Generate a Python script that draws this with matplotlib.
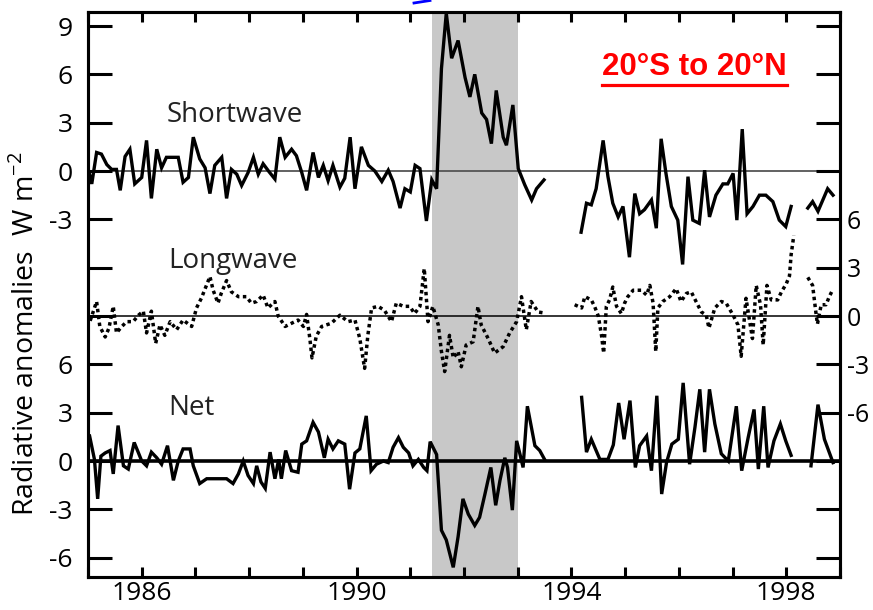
import matplotlib
matplotlib.use("Agg")
import matplotlib.pyplot as plt
from matplotlib.lines import Line2D

# ---------------- data (years, anomalies W m-2) ----------------
sw1_x = [1985.02, 1985.07, 1985.16, 1985.25, 1985.35, 1985.44, 1985.53, 1985.60, 1985.69, 1985.78,
         1985.87, 1986.00, 1986.09, 1986.18, 1986.28, 1986.37, 1986.46, 1986.56, 1986.68, 1986.77,
         1986.87, 1986.96, 1987.08, 1987.18, 1987.27, 1987.36, 1987.49, 1987.58, 1987.67, 1987.77,
         1987.86, 1987.98, 1988.08, 1988.17, 1988.26, 1988.36, 1988.48, 1988.57, 1988.67, 1988.79,
         1988.88, 1988.98, 1989.07, 1989.19, 1989.29, 1989.38, 1989.47, 1989.56, 1989.69, 1989.78,
         1989.88, 1989.97, 1990.09, 1990.22, 1990.34, 1990.47, 1990.59, 1990.68, 1990.81, 1990.90,
         1991.00, 1991.09, 1991.18, 1991.30, 1991.40, 1991.49, 1991.58, 1991.67, 1991.77, 1991.89,
         1992.02, 1992.11, 1992.20, 1992.33, 1992.42, 1992.51, 1992.60, 1992.73, 1992.79, 1992.91,
         1993.01, 1993.13, 1993.26, 1993.35, 1993.49]
sw1_y = [-0.1, -0.8, 1.15, 1.05, 0.4, 0.1, 0.1, -1.2, 0.9, 1.35,
         -0.8, -0.4, 1.9, -1.7, 1.35, 0.2, 0.85, 0.85, 0.85, -0.7,
         -0.4, 2.1, 0.75, 0.2, -1.4, 0.35, 0.85, -1.7, 0.1, -0.2,
         -0.9, -0.1, 0.85, -0.2, 0.45, 0.0, -0.5, 2.1, 0.85, 1.35,
         0.95, -0.1, -1.2, 1.15, -0.4, 0.35, -0.6, 0.35, -1.0, -0.45,
         2.1, -1.1, 1.5, 0.35, 0.0, -0.65, 0.05, -0.65, -2.3, -1.1,
         -1.3, 0.35, 0.15, -3.1, -0.55, -1.1, 6.35, 9.8, 7.0, 8.1,
         5.8, 4.6, 6.0, 3.6, 3.2, 1.7, 5.0, 2.1, 1.6, 4.1,
         0.15, -0.85, -1.8, -1.1, -0.55]

sw2_x = [1994.18, 1994.28, 1994.37, 1994.46, 1994.59, 1994.68, 1994.77, 1994.87, 1994.96, 1995.08,
         1995.18, 1995.27, 1995.36, 1995.49, 1995.58, 1995.67, 1995.76, 1995.86, 1995.98, 1996.07,
         1996.17, 1996.26, 1996.38, 1996.48, 1996.57, 1996.69, 1996.82, 1996.91, 1997.01, 1997.08,
         1997.18, 1997.27, 1997.38, 1997.50, 1997.62, 1997.75, 1997.87, 1997.99, 1998.09]
sw2_y = [-3.8, -2.0, -2.1, -1.1, 1.9, -0.35, -2.0, -2.85, -2.2, -5.35,
         -1.4, -2.65, -2.4, -1.8, -3.55, 2.0, -0.15, -2.2, -3.05, -5.8,
         -0.35, -3.05, -3.25, 0.05, -2.85, -1.5, -0.8, -0.8, -0.15, -3.05,
         2.6, -2.65, -2.2, -1.5, -1.5, -1.9, -3.05, -3.45, -2.2]

sw3_x = [1998.40, 1998.49, 1998.59, 1998.68, 1998.77, 1998.87]
sw3_y = [-2.3, -1.9, -2.5, -1.8, -1.1, -1.5]

lw1_x = [1985.04, 1985.16, 1985.22, 1985.32, 1985.39, 1985.47, 1985.53, 1985.63, 1985.72, 1985.84,
         1985.94, 1986.03, 1986.09, 1986.18, 1986.26, 1986.34, 1986.43, 1986.53, 1986.65, 1986.77,
         1986.93, 1987.02, 1987.11, 1987.27, 1987.33, 1987.42, 1987.48, 1987.58, 1987.67, 1987.80,
         1987.95, 1988.04, 1988.14, 1988.26, 1988.35, 1988.48, 1988.54, 1988.67, 1988.79, 1988.91,
         1989.01, 1989.07, 1989.13, 1989.17, 1989.25, 1989.35, 1989.53, 1989.69, 1989.84, 1989.97,
         1990.06, 1990.15, 1990.21, 1990.28, 1990.40, 1990.52, 1990.65, 1990.74, 1990.87, 1990.99,
         1991.08, 1991.18, 1991.26, 1991.33, 1991.42, 1991.52, 1991.58, 1991.64, 1991.73, 1991.80,
         1991.89, 1991.95, 1992.04, 1992.17, 1992.26, 1992.32, 1992.45, 1992.57, 1992.73, 1992.85,
         1992.98, 1993.07, 1993.16, 1993.25, 1993.38, 1993.47]
lw1_y = [-0.3, 0.9, -0.65, -1.3, -0.75, 0.6, -1.05, -0.65, -0.35, -0.35,
         0.05, 0.3, -1.05, 0.3, -1.7, -0.55, -1.2, -0.35, -0.85, -0.25,
         -0.65, 0.5, 1.1, 2.45, 1.6, 0.8, 1.4, 2.2, 1.5, 1.2,
         1.2, 0.8, 0.9, 1.3, 0.5, 0.9, 0.0, -0.65, -0.45, -0.25,
         -0.65, 0.1, -1.4, -2.6, -1.25, -0.65, -0.45, 0.05, -0.35, -0.25,
         -1.4, -3.25, -1.2, 0.5, 0.6, 0.35, -0.35, 0.8, 0.6, 0.6,
         0.15, 0.6, 2.95, -0.35, 0.6, -0.55, -2.2, -3.45, -1.2, -2.6,
         -2.2, -3.15, -1.8, -1.6, 0.6, -0.55, -1.4, -2.3, -1.9, -1.05,
         -0.35, 1.2, -0.85, 0.9, 0.25, 0.2]

lw2_x = [1994.06, 1994.19, 1994.25, 1994.37, 1994.43, 1994.50, 1994.56, 1994.60, 1994.65, 1994.71,
         1994.77, 1994.84, 1994.93, 1994.99, 1995.05, 1995.15, 1995.30, 1995.40, 1995.46, 1995.52,
         1995.57, 1995.61, 1995.70, 1995.83, 1995.95, 1996.04, 1996.14, 1996.23, 1996.32, 1996.42,
         1996.51, 1996.56, 1996.67, 1996.79, 1996.88, 1997.01, 1997.10, 1997.16, 1997.25, 1997.37,
         1997.44, 1997.52, 1997.57, 1997.64, 1997.72, 1997.84, 1997.91, 1998.00, 1998.06, 1998.09,
         1998.14]
lw2_y = [0.7, 0.5, 1.2, 1.0, 0.6, 0.0, -1.2, -2.3, 0.6, 1.0,
         1.8, 0.6, 0.15, 0.8, 1.2, 1.6, 1.6, 1.3, 1.9, 0.8,
         -2.2, 0.5, 0.9, 1.2, 1.7, 0.9, 1.4, 1.5, 0.9, 0.25,
         0.05, -0.75, 0.5, 0.9, 0.8, 0.05, -0.55, -2.5, 1.1, -1.4,
         1.9, 0.7, -1.8, 1.9, 1.0, 1.0, 1.5, 2.0, 2.5, 3.8,
         5.0]

lw3_x = [1998.40, 1998.49, 1998.55, 1998.58, 1998.65, 1998.74, 1998.80, 1998.86]
lw3_y = [2.4, 1.9, 0.25, -0.5, 0.7, 0.7, 1.2, 1.6]

net1_x = [1985.03, 1985.12, 1985.18, 1985.24, 1985.32, 1985.41, 1985.47, 1985.56, 1985.66, 1985.75,
          1985.86, 1985.94, 1986.00, 1986.09, 1986.18, 1986.28, 1986.37, 1986.48, 1986.59, 1986.68,
          1986.77, 1986.90, 1986.96, 1987.08, 1987.21, 1987.33, 1987.46, 1987.58, 1987.70, 1987.80,
          1987.89, 1987.98, 1988.08, 1988.14, 1988.22, 1988.30, 1988.39, 1988.48, 1988.55, 1988.60,
          1988.68, 1988.79, 1988.91, 1988.98, 1989.07, 1989.19, 1989.29, 1989.40, 1989.47, 1989.56,
          1989.66, 1989.78, 1989.87, 1989.97, 1990.06, 1990.18, 1990.27, 1990.37, 1990.50, 1990.59,
          1990.68, 1990.78, 1990.87, 1990.97, 1991.05, 1991.15, 1991.25, 1991.31, 1991.37, 1991.49,
          1991.58, 1991.67, 1991.80, 1991.89, 1991.98, 1992.08, 1992.20, 1992.29, 1992.39, 1992.50,
          1992.59, 1992.67, 1992.76, 1992.81, 1992.90, 1992.98, 1993.04, 1993.10, 1993.18, 1993.32,
          1993.41, 1993.50]
net1_y = [1.55, 0.1, -2.35, 0.3, 0.5, 0.65, -0.8, 2.2, -0.3, -0.5,
          1.15, 0.5, 0.0, -0.3, 0.55, 0.2, -0.2, 0.95, -1.2, 0.0,
          0.75, 0.75, -0.3, -1.4, -1.1, -1.1, -1.1, -1.1, -1.4, -0.8,
          0.0, -0.9, -1.4, -0.3, -1.3, -1.7, 0.55, -1.1, 0.1, -1.1,
          0.65, -0.6, -0.7, 1.05, 1.25, 2.4, 1.8, 0.2, 1.35, 0.75,
          1.25, 1.05, -1.75, 0.5, 0.75, 2.8, -0.6, -0.2, 0.0, -0.1,
          0.85, 1.45, 0.85, 0.5, -0.3, 0.1, -0.4, -0.6, 1.2, 0.4,
          -4.3, -4.9, -6.6, -4.7, -2.35, -3.3, -4.0, -3.5, -2.05, -0.4,
          -2.75, -1.2, 0.2, -0.4, -3.05, 1.25, 0.45, -0.4, 3.4, 0.95,
          0.65, 0.1]

net2_x = [1994.19, 1994.28, 1994.37, 1994.53, 1994.68, 1994.78, 1994.88, 1994.98, 1995.09, 1995.19,
          1995.27, 1995.40, 1995.49, 1995.59, 1995.68, 1995.77, 1995.87, 1995.99, 1996.08, 1996.20,
          1996.30, 1996.39, 1996.48, 1996.57, 1996.67, 1996.79, 1996.92, 1997.07, 1997.17, 1997.29,
          1997.40, 1997.48, 1997.58, 1997.66, 1997.77, 1997.89, 1997.99, 1998.09]
net2_y = [3.95, 0.55, 1.35, 0.1, 0.1, 1.0, 3.6, 1.35, 3.75, -0.4,
          0.95, 1.55, -0.6, 4.05, -2.05, -0.1, 1.05, 1.35, 4.85, -0.2,
          2.1, 4.45, 0.55, 4.45, 2.3, 0.45, 0.0, 3.4, -0.6, 1.45,
          3.2, -0.5, 3.4, -0.4, 1.25, 2.3, 1.25, 0.35]

net3_x = [1998.46, 1998.59, 1998.71, 1998.87]
net3_y = [-0.3, 3.5, 1.35, -0.1]

# Pinatubo period shading
shade_start, shade_end = 1991.4, 1993.0

# ---------------- layout / style ----------------
SW_OFF, LW_OFF, NET_OFF = 18, 9, 0
FONT = ["Open Sans", "DejaVu Sans"]
plt.rcParams["font.family"] = FONT

fig = plt.figure(figsize=(8.73, 6.10), dpi=100)
ax = fig.add_axes([88/873, 1-577/610, (840-88)/873, (577-12)/610])
ax.set_xlim(1985, 1999)
ax.set_ylim(-7.2, 27.87)

ax.axvspan(shade_start, shade_end, color="#c8c8c8", lw=0, zorder=0)

ax.axhline(SW_OFF, color="#555555", lw=1.3, zorder=1)
ax.axhline(LW_OFF, color="black", lw=1.1, zorder=1)
ax.axhline(NET_OFF, color="black", lw=2.6, zorder=1)

for xs, ys in [(sw1_x, sw1_y), (sw2_x, sw2_y), (sw3_x, sw3_y)]:
    ax.plot(xs, [v + SW_OFF for v in ys], color="black", lw=2.4, zorder=3,
            solid_joinstyle="miter")
for xs, ys in [(lw1_x, lw1_y), (lw2_x, lw2_y), (lw3_x, lw3_y)]:
    ax.plot(xs, [v + LW_OFF for v in ys], color="black", lw=2.5, zorder=3,
            linestyle=(0, (1.0, 1.0)))
for xs, ys in [(net1_x, net1_y), (net2_x, net2_y), (net3_x, net3_y)]:
    ax.plot(xs, [v + NET_OFF for v in ys], color="black", lw=2.4, zorder=3,
            solid_joinstyle="miter")

label_kw = dict(fontsize=20, color="#222222", va="center", ha="left")
ax.text(1986.47, 21.5, "Shortwave", **label_kw)
ax.text(1986.49, 12.4, "Longwave", **label_kw)
ax.text(1986.49, 3.3, "Net", **label_kw)

# ticks
yt = list(range(-6, 28, 3))
left_lab = {27: "9", 24: "6", 21: "3", 18: "0", 15: "-3", 6: "6", 3: "3", 0: "0", -3: "-3", -6: "-6"}
right_lab = {15: "6", 12: "3", 9: "0", 6: "-3", 3: "-6"}
ax.set_yticks(yt, [left_lab.get(t, "") for t in yt])
ax.set_xticks(range(1985, 2000), [str(y) if y in (1986, 1990, 1994, 1998) else "" for y in range(1985, 2000)])
ax.tick_params(axis="y", direction="in", length=17, width=2.2, labelsize=19, pad=11)
ax.tick_params(axis="x", direction="in", length=7, width=2.2, labelsize=19, pad=3, top=True)

ax2 = ax.twinx()
ax2.set_ylim(ax.get_ylim())
ax2.set_yticks(yt, [right_lab.get(t, "") for t in yt])
ax2.tick_params(axis="y", direction="in", length=17, width=2.2, labelsize=18, pad=5)

for a in (ax, ax2):
    for s in a.spines.values():
        s.set_linewidth(2.2)

ax.set_ylabel("Radiative anomalies  W m$^{\\mathregular{-2}}$", fontsize=20.5)
ax.yaxis.set_label_coords(-0.062, 0.43)

# red region label, underlined
t = fig.text(602/873, 1-67/610, "20°S to 20°N", color="#ff0000", fontsize=22.5,
             fontweight="bold", family=["Liberation Sans", "DejaVu Sans"], ha="left", va="center")
fig.canvas.draw()
bb = t.get_window_extent()
W, H = fig.bbox.width, fig.bbox.height
uy = (bb.y0 - 3) / H
fig.add_artist(Line2D([bb.x0 / W, bb.x1 / W], [uy, uy], color="#ff0000", lw=2.3,
                      transform=fig.transFigure))

# small blue fragment at the top edge
fig.add_artist(Line2D([414/873, 430/873], [1-3/610, 1-0.5/610], color="#0000ff", lw=2,
                      transform=fig.transFigure))

fig.savefig("out.png", dpi=100)
